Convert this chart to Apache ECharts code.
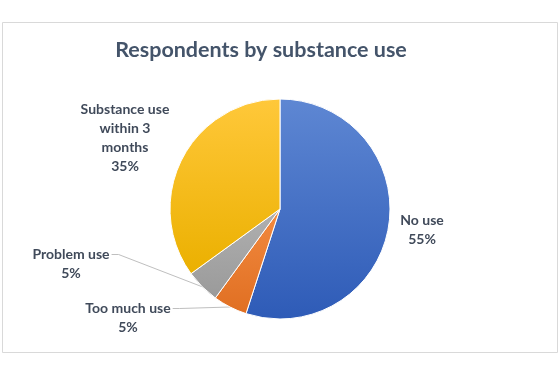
<!DOCTYPE html>
<html>
<head>
<meta charset="utf-8">
<script src="https://cdn.jsdelivr.net/npm/echarts@6/dist/echarts.min.js"></script>
<style>
  html, body { margin: 0; padding: 0; background: #fff; }
  #chart { width: 559px; height: 378px; }
</style>
</head>
<body>
<div id="chart"></div>
<script>
// data
const categories = ["No use", "Too much use", "Problem use", "Substance use within 3 months"];
const shares = [55, 5, 5, 35];
const labelText = ["No use", "Too much use", "Problem use", "Substance use\nwithin 3\nmonths"];

// slice colours (top -> bottom gradient, Excel-like)
const sliceColors = [
  ["#5E87D3", "#2E5BB7"],
  ["#F28A40", "#E06F22"],
  ["#B0B0B0", "#9A9A9A"],
  ["#FFC83A", "#EBB000"]
];

// label placement (center of label block), per slice
const labelPos = [
  { x: 422, y: 230 },
  { x: 128, y: 318 },
  { x: 71, y: 264 },
  { x: 125, y: 138 }
];

const chart = echarts.init(document.getElementById("chart"));

const data = categories.map((name, i) => ({
  name: name,
  value: shares[i],
  itemStyle: {
    color: new echarts.graphic.LinearGradient(0, 0, 0, 1, [
      { offset: 0, color: sliceColors[i][0] },
      { offset: 1, color: sliceColors[i][1] }
    ])
  },
  label: {
    formatter: labelText[i] + "\n" + shares[i] + "%"
  },
  labelLine: { show: i === 1 || i === 2 }
}));

const option = {
  backgroundColor: "#fff",
  animation: false,
  title: {
    text: "Respondents by substance use",
    left: 256,
    top: 34,
    textAlign: "center",
    textStyle: {
      fontFamily: "Lato",
      fontWeight: "bold",
      fontSize: 21.5,
      color: "#44546A"
    }
  },
  graphic: [{
    type: "rect",
    shape: { x: 2.5, y: 22.5, width: 555, height: 330 },
    style: { fill: "none", stroke: "#D9D9D9", lineWidth: 1 },
    silent: true
  }],
  series: [{
    type: "pie",
    center: [280, 209],
    radius: 110,
    startAngle: 90,
    clockwise: true,
    itemStyle: { borderColor: "#fff", borderWidth: 1 },
    label: {
      show: true,
      position: "outside",
      fontFamily: "Lato",
      fontWeight: "bold",
      fontSize: 14,
      lineHeight: 19,
      color: "#404A5A",
      align: "center"
    },
    labelLine: {
      show: true,
      length: 10,
      length2: 10,
      lineStyle: { color: "#BFBFBF", width: 1 }
    },
    labelLayout: function (params) {
      const p = labelPos[params.dataIndex];
      const w = params.labelRect.width;
      const h = params.labelRect.height;
      const out = { x: p.x, y: p.y, align: "center", verticalAlign: "middle" };
      if (params.labelLinePoints) {
        const pts = params.labelLinePoints;
        const attachY = p.y - h / 2 + 9.5;
        const right = p.x + w / 2;
        out.labelLinePoints = [pts[0], [right + 9, attachY], [right + 2, attachY]];
      }
      return out;
    },
    data: data
  }]
};

chart.setOption(option);
</script>
</body>
</html>
